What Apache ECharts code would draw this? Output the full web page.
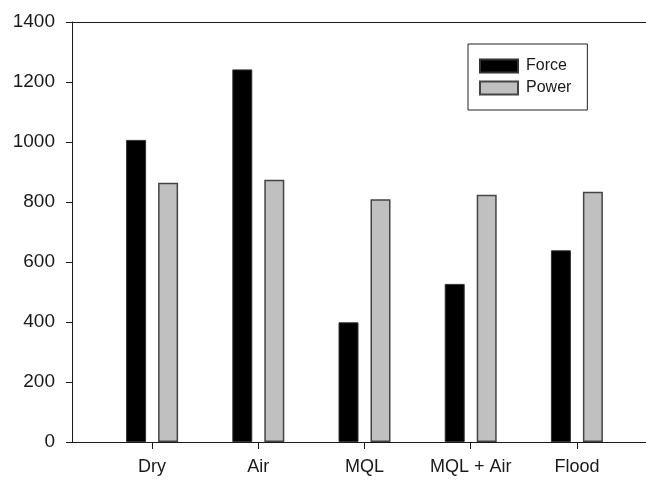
<!DOCTYPE html>
<html>
<head>
<meta charset="utf-8">
<script src="https://cdn.jsdelivr.net/npm/echarts@6/dist/echarts.min.js"></script>
<style>
  html, body { margin: 0; padding: 0; background: #fff; }
  #myChart { width: 646px; height: 482px; }
</style>
</head>
<body>
<div id="myChart"></div>
<script>
  let categories = ['Dry', 'Air', 'MQL', 'MQL + Air', 'Flood'];
  let forceData = [1007, 1242, 399, 527, 639];
  let powerData = [864, 874, 809, 824, 834];
  let yTicks = { min: 0, max: 1400, interval: 200 };

  let ink = '#1a1a1a';
  let font = 'Liberation Sans, Arial, sans-serif';

  let myChart = echarts.init(document.getElementById('myChart'));
  myChart.setOption({
    animation: false,
    backgroundColor: '#fff',
    textStyle: { fontFamily: font },
    grid: [
      // frame grid: left/bottom/top lines
      { left: 72, right: 0, top: 22, bottom: 40 },
      // bars grid: category bands
      { left: 99, right: 16, top: 22, bottom: 40 }
    ],
    legend: {
      orient: 'vertical',
      left: 468,
      top: 44,
      padding: [14, 16, 14, 11],
      itemGap: 6,
      itemWidth: 38,
      itemHeight: 13,
      icon: 'rect',
      borderColor: '#222',
      borderWidth: 1,
      textStyle: { fontSize: 16, color: ink, fontFamily: font, padding: [0, 0, 0, 3] },
      data: ['Force', 'Power']
    },
    xAxis: [
      {
        gridIndex: 0, type: 'value', min: 0, max: 1,
        axisLine: { show: true, onZero: false, lineStyle: { color: ink, width: 1 } },
        axisTick: { show: false }, axisLabel: { show: false }, splitLine: { show: false }
      },
      {
        gridIndex: 1, type: 'category', data: categories,
        axisLine: { show: false },
        axisTick: { show: true, alignWithLabel: true, length: 7, lineStyle: { color: ink } },
        axisLabel: { fontSize: 18, color: ink, margin: 16 },
        splitLine: { show: false }
      },
      {
        gridIndex: 0, type: 'value', min: 0, max: 1, position: 'top',
        axisLine: { show: true, onZero: false, lineStyle: { color: ink, width: 1 } },
        axisTick: { show: false }, axisLabel: { show: false }, splitLine: { show: false }
      }
    ],
    yAxis: [
      {
        gridIndex: 0, type: 'value',
        min: yTicks.min, max: yTicks.max, interval: yTicks.interval,
        axisLine: { show: true, lineStyle: { color: ink, width: 1 } },
        axisTick: { show: true, length: 6, lineStyle: { color: ink } },
        axisLabel: { fontSize: 19, color: ink, margin: 17, formatter: (v) => String(v) },
        splitLine: { show: false }
      },
      {
        gridIndex: 1, type: 'value',
        min: yTicks.min, max: yTicks.max, interval: yTicks.interval,
        show: false
      }
    ],
    series: [
      {
        name: 'Force', type: 'bar', xAxisIndex: 1, yAxisIndex: 1,
        barWidth: 20, barGap: '60%',
        itemStyle: { color: '#000', borderColor: '#333', borderWidth: 1 },
        data: forceData
      },
      {
        name: 'Power', type: 'bar', xAxisIndex: 1, yAxisIndex: 1,
        barWidth: 20, barGap: '60%',
        itemStyle: { color: '#c0c0c0', borderColor: '#444', borderWidth: 1.5 },
        data: powerData
      }
    ]
  });
</script>
</body>
</html>
